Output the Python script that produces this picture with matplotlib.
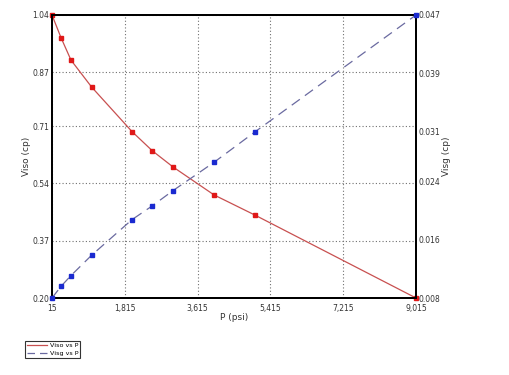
import matplotlib
matplotlib.use("Agg")
import matplotlib.pyplot as plt
from matplotlib.ticker import FixedLocator, FixedFormatter
from matplotlib.lines import Line2D

plt.rcParams['font.family'] = ['Liberation Sans Narrow', 'DejaVu Sans']

# Data
p_oil = [15, 237, 485, 996, 1993, 2495, 3007, 4021, 5035, 9015]
viso = [1.04, 0.973, 0.906, 0.826, 0.694, 0.637, 0.589, 0.506, 0.446, 0.20]
p_gas = [15, 237, 485, 996, 1993, 2495, 3007, 4021, 5035, 9015]
visg = [0.008, 0.0096, 0.0111, 0.0139, 0.0188, 0.0207, 0.0228, 0.0267, 0.0309, 0.047]

x_ticks = [15, 1815, 3615, 5415, 7215, 9015]
x_labels = ["15", "1,815", "3,615", "5,415", "7,215", "9,015"]
yl_ticks = [0.20, 0.37, 0.54, 0.71, 0.87, 1.04]
yl_labels = ["0.20", "0.37", "0.54", "0.71", "0.87", "1.04"]
yr_ticks = [0.008, 0.016, 0.024, 0.031, 0.039, 0.047]
yr_labels = ["0.008", "0.016", "0.024", "0.031", "0.039", "0.047"]

fig = plt.figure(figsize=(5.10, 3.75), dpi=100)
ax = fig.add_axes([52/510, 77/375, 364/510, 283/375])
ax2 = ax.twinx()

ax.plot(p_oil, viso, color='#c85050', lw=0.9, zorder=3)
ax.plot(p_oil, viso, ls='none', marker='s', ms=2.6, color='#e01818', zorder=4, clip_on=False)
ax2.plot(p_gas, visg, color='#6a6aa0', lw=0.9, ls=(0, (8, 5)), zorder=3)
ax2.plot(p_gas, visg, ls='none', marker='s', ms=2.6, color='#1a2ad0', zorder=4, clip_on=False)

ax.set_xlim(15, 9015)
ax.set_ylim(0.20, 1.04)
ax2.set_ylim(0.008, 0.047)

ax.xaxis.set_major_locator(FixedLocator(x_ticks))
ax.xaxis.set_major_formatter(FixedFormatter(x_labels))
ax.yaxis.set_major_locator(FixedLocator(yl_ticks))
ax.yaxis.set_major_formatter(FixedFormatter(yl_labels))
ax2.yaxis.set_major_locator(FixedLocator(yr_ticks))
ax2.yaxis.set_major_formatter(FixedFormatter(yr_labels))

ax.grid(True, color='#707070', ls=(0, (1, 2)), lw=0.8)
ax.tick_params(length=0, labelsize=5.5, colors='#333333', pad=2)
ax.tick_params(axis='x', pad=4)
ax2.tick_params(length=0, labelsize=5.5, colors='#333333', pad=2)

for a in (ax, ax2):
    for s in a.spines.values():
        s.set_linewidth(1.4)
        s.set_color('black')

ax.set_xlabel("P (psi)", fontsize=6.5, color='#333333', labelpad=0)
ax.set_ylabel("Viso (cp)", fontsize=6.5, color='#333333', labelpad=1)
ax2.set_ylabel("Visg (cp)", fontsize=6.5, color='#333333', rotation=90, labelpad=1)

h1 = Line2D([], [], color='#c85050', lw=0.9)
h2 = Line2D([], [], color='#6a6aa0', lw=0.9, ls=(0, (6, 4)))
leg = fig.legend([h1, h2], ["Viso vs P", "Visg vs P"], loc='upper left',
                 bbox_to_anchor=(25/510, 1 - 341/375), fontsize=4.6,
                 frameon=True, fancybox=False, edgecolor='black',
                 handlelength=3.2, borderpad=0.3, labelspacing=0.3,
                 handletextpad=0.4, borderaxespad=0)
leg.get_frame().set_linewidth(0.8)

fig.savefig("out.png", dpi=100)
